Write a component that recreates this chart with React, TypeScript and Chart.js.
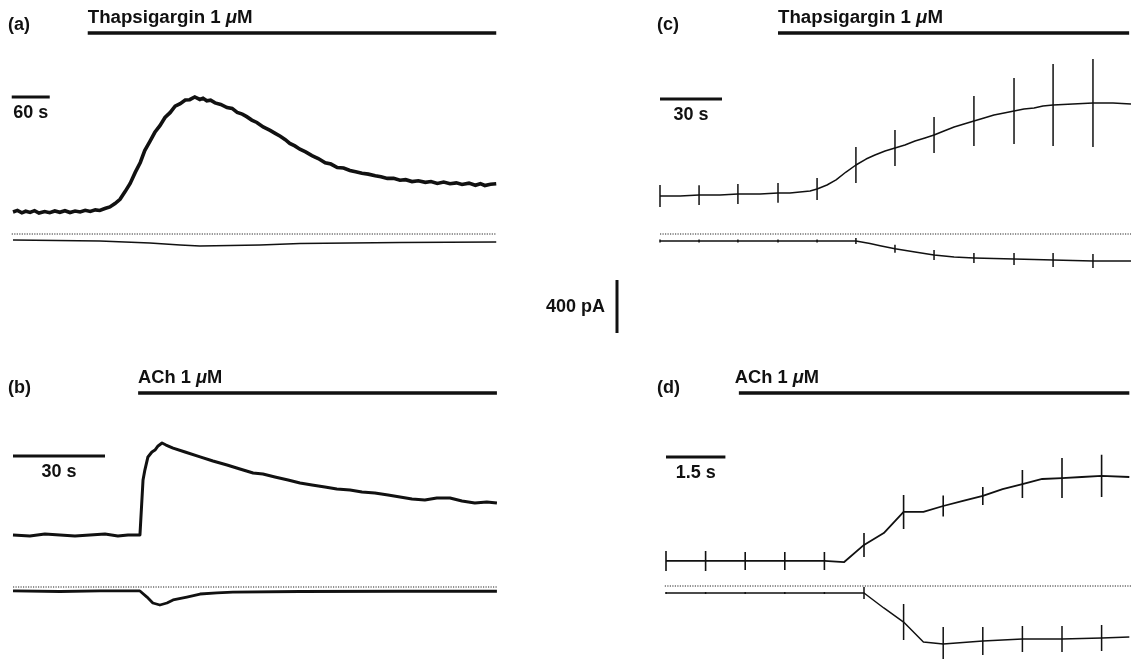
import React, { useEffect, useRef } from "react";
import { Chart, registerables } from "chart.js";

Chart.register(...registerables);

const W = 1131;
const H = 659;
const PA_PER_PX = 7.55;
const INK = "#111";

// ---------- Panel (a): Thapsigargin 1 µM, time in s, current in pA ----------
const aTime = [0, 7, 14, 20, 27, 34, 41, 50, 58, 66, 74, 82, 90, 98, 106, 114, 122, 130, 137, 145, 153, 161, 169, 177, 185, 193, 201, 208, 216, 224, 232, 240, 248, 256, 264, 272, 279, 287, 295, 300, 306, 312, 319, 328, 338, 346, 354, 362, 369, 377, 385, 395, 406, 414, 422, 430, 437, 445, 453, 462, 472, 482, 493, 502, 512, 522, 532, 541, 551, 561, 572, 581, 591, 601, 611, 620, 630, 640, 651, 660, 670, 680, 690, 700, 709, 720, 730, 738, 745, 754, 763];
const aUpper = [166, 178, 160, 172, 163, 176, 158, 170, 161, 174, 164, 176, 162, 173, 166, 179, 170, 182, 178, 192, 204, 230, 262, 320, 382, 465, 540, 630, 698, 768, 818, 880, 916, 965, 984, 1012, 1014, 1035, 1016, 1025, 1006, 1010, 990, 978, 955, 948, 918, 905, 886, 860, 842, 808, 782, 760, 738, 712, 684, 665, 640, 620, 592, 570, 538, 528, 502, 498, 480, 470, 458, 452, 440, 432, 420, 420, 406, 410, 396, 402, 390, 396, 382, 392, 380, 386, 374, 384, 368, 380, 366, 376, 380];
const aLowerTime = [0, 137, 216, 264, 295, 343, 390, 453, 611, 763];
const aLower = [-45, -53, -68, -83, -91, -87, -83, -72, -64, -60];
const aBaseSpan = [-2, 763];
const aDrugSpan = [118, 763];
const aDrugLevel = 1518;
const aScaleSpan = [-2, 58];
const aScaleLevel = 1034;

// ---------- Panel (b): ACh 1 µM ----------
const bTime = [0, 5.5, 10.4, 15.3, 20.2, 25.1, 30, 34.2, 37.5, 41.4, 42.4, 43, 44, 45.3, 46.3, 47.3, 48.6, 49.9, 52.2, 56.1, 61, 65.2, 69.8, 74, 78.3, 81.5, 85.4, 89.7, 93.6, 97.5, 101.7, 105.6, 109.9, 113.8, 118, 122.3, 126.2, 130.1, 134.3, 138.2, 142.5, 146.4, 150.6, 154.5, 157.8];
const bUpper = [393, 385, 400, 393, 385, 393, 400, 385, 393, 393, 808, 883, 982, 1019, 1034, 1065, 1087, 1072, 1049, 1019, 982, 951, 921, 891, 861, 853, 831, 808, 785, 770, 755, 740, 732, 717, 710, 695, 680, 664, 657, 672, 672, 649, 634, 642, 634];
const bLowerTime = [0, 15.3, 28.4, 41.4, 43.7, 45.6, 47.9, 50.2, 52.2, 56.7, 61, 66.5, 71.7, 93.6, 126.2, 157.8];
const bLower = [-30, -34, -30, -30, -76, -121, -136, -121, -98, -76, -53, -45, -38, -34, -32, -32];
const bBaseSpan = [0, 157.8];
const bDrugSpan = [40.8, 157.8];
const bDrugLevel = 1465;
const bScaleSpan = [0, 30];
const bScaleLevel = 989;

// ---------- Panel (c): Thapsigargin 1 µM, mean ± s.e.m. ----------
const cTime = [0, 9.7, 18.9, 29, 37.7, 48.4, 57.1, 62.9, 67.7, 72.6, 76, 80.8, 85.2, 90, 94.8, 99.7, 104, 108.9, 113.7, 118.5, 123.4, 128.2, 132.6, 137.4, 142.3, 147.1, 151.9, 156.8, 161.6, 166.5, 171.3, 176.1, 181, 185.3, 190.2, 195, 199.8, 204.6, 209.5, 214.4, 219.2, 223.5, 227.9];
const cUpper = [287, 287, 294, 294, 302, 302, 310, 310, 317, 325, 340, 370, 408, 468, 521, 566, 596, 627, 649, 672, 702, 725, 747, 778, 808, 831, 853, 876, 898, 914, 929, 944, 951, 966, 974, 978, 982, 985, 989, 989, 989, 985, 982];
const cLowerTime = [0, 94.8, 101.6, 106.5, 113.7, 123.4, 132.6, 142.3, 151.9, 161.6, 171.3, 181, 190.2, 199.8, 209.5, 227.9];
const cLower = [-53, -53, -72, -88, -112, -136, -159, -174, -181, -185, -189, -193, -196, -200, -204, -204];
const cErrTime = [0, 18.9, 37.7, 57.1, 76, 94.8, 113.7, 132.6, 151.9, 171.3, 190.2, 209.5];
const cUpperMean = [287, 294, 302, 310, 340, 521, 649, 747, 853, 929, 974, 989];
const cUpperSem = [83, 75, 75, 75, 83, 136, 136, 136, 189, 249, 310, 332];
const cLowerMean = [-53, -53, -53, -53, -53, -53, -112, -159, -181, -189, -196, -204];
const cLowerSem = [11, 11, 11, 11, 11, 23, 30, 38, 38, 45, 53, 53];
const cBaseSpan = [0, 227.9];
const cDrugSpan = [57.1, 227];
const cDrugLevel = 1518;
const cScaleSpan = [0, 30];
const cScaleLevel = 1019;

// ---------- Panel (d): ACh 1 µM, mean ± s.e.m. ----------
const dTime = [0, 1, 2, 3, 4, 4.5, 5, 5.5, 6, 6.5, 7, 7.5, 8, 8.5, 9, 9.5, 10, 10.5, 11, 11.7];
const dUpper = [189, 189, 189, 189, 189, 181, 310, 400, 559, 559, 604, 642, 680, 732, 770, 808, 815, 823, 831, 823];
const dLowerTime = [0, 1, 2, 3, 4, 5, 5.5, 6, 6.5, 7, 8, 9, 10, 11, 11.7];
const dLower = [-53, -53, -53, -53, -53, -53, -166, -272, -423, -438, -415, -400, -400, -393, -385];
const dErrTime = [0, 1, 2, 3, 4, 5, 6, 7, 8, 9, 10, 11];
const dUpperMean = [189, 189, 189, 189, 189, 310, 559, 604, 680, 770, 815, 831];
const dUpperSem = [75, 75, 68, 68, 68, 91, 128, 79, 68, 106, 151, 159];
const dLowerMean = [-53, -53, -53, -53, -53, -53, -272, -438, -415, -400, -400, -393];
const dLowerSem = [8, 8, 8, 8, 8, 45, 136, 128, 106, 98, 98, 98];
const dBaseSpan = [-0.03, 11.75];
const dDrugSpan = [1.84, 11.7];
const dDrugLevel = 1457;
const dScaleSpan = [0, 1.5];
const dScaleLevel = 974;

// ---------- shared current scale bar ----------
const currentBarSpan = [0, 400];

// panel placement on the page (layout only)
const layout: Record<string, { x0: number; y0: number; pxPerX: number }> = {
  a: { x0: 13, y0: 234, pxPerX: 38 / 60 },
  b: { x0: 13, y0: 587, pxPerX: 92 / 30 },
  c: { x0: 660, y0: 234, pxPerX: 62 / 30 },
  d: { x0: 666, y0: 586, pxPerX: 39.6 },
  s: { x0: 617, y0: 333, pxPerX: 1 },
};

const pts = (xs: number[], ys: number[]) => xs.map((x, i) => ({ x, y: ys[i] }));
const errPts = (ts: number[], m: number[], s: number[]) => {
  const out: { x: number; y: number | null }[] = [];
  ts.forEach((t, i) => {
    out.push({ x: t, y: m[i] - s[i] }, { x: t, y: m[i] + s[i] }, { x: t, y: null });
  });
  return out;
};

function ds(p: string, data: any[], width: number, extra: any = {}) {
  return {
    data,
    xAxisID: "x" + p,
    yAxisID: "y" + p,
    borderColor: INK,
    borderWidth: width,
    pointRadius: 0,
    tension: 0,
    fill: false,
    spanGaps: false,
    borderJoinStyle: "round",
    ...extra,
  };
}

const dotted = { borderDash: [1.2, 1.3], borderColor: "#222" };

const FONT = 18;
const FAMILY = '"Liberation Sans", Arial, sans-serif';

function drawRich(ctx: CanvasRenderingContext2D, parts: [string, boolean][], x: number, y: number, size: number) {
  let cx = x;
  for (const [txt, it] of parts) {
    ctx.font = `${it ? "italic " : ""}bold ${size}px ${FAMILY}`;
    ctx.fillText(txt, cx, y);
    cx += ctx.measureText(txt).width;
  }
}

const labelPlugin = {
  id: "figureLabels",
  afterDatasetsDraw(chart: any) {
    const ctx: CanvasRenderingContext2D = chart.ctx;
    const sc = chart.scales;
    ctx.save();
    ctx.fillStyle = INK;
    ctx.textBaseline = "alphabetic";
    ctx.textAlign = "left";
    ctx.font = `bold ${FONT}px ${FAMILY}`;
    // panel letters
    ctx.fillText("(a)", 8, 30);
    ctx.fillText("(b)", 8, 393);
    ctx.fillText("(c)", 657, 30);
    ctx.fillText("(d)", 657, 393);

    const drug = (p: string, name: string, span: number[], level: number, size: number) => {
      const x = sc["x" + p].getPixelForValue(span[0]);
      const y = sc["y" + p].getPixelForValue(level);
      drawRich(ctx, [[name + " 1 ", false], ["\u03bc", true], ["M", false]], x - (p === "d" ? 4 : 0), y - 10, size);
    };
    drug("a", "Thapsigargin", aDrugSpan, aDrugLevel, 18.7);
    drug("b", "ACh", bDrugSpan, bDrugLevel, 18.3);
    drug("c", "Thapsigargin", cDrugSpan, cDrugLevel, 18.7);
    drug("d", "ACh", dDrugSpan, dDrugLevel, 18.3);

    ctx.font = `bold ${FONT}px ${FAMILY}`;
    ctx.textAlign = "center";
    ctx.textBaseline = "middle";
    const timeLabel = (p: string, txt: string, span: number[], level: number) => {
      const x = (sc["x" + p].getPixelForValue(span[0]) + sc["x" + p].getPixelForValue(span[1])) / 2;
      const y = sc["y" + p].getPixelForValue(level);
      ctx.fillText(txt, x, y + 16);
    };
    timeLabel("a", "60 s", aScaleSpan, aScaleLevel);
    timeLabel("b", "30 s", bScaleSpan, bScaleLevel);
    timeLabel("c", "30 s", cScaleSpan, cScaleLevel);
    timeLabel("d", "1.5 s", dScaleSpan, dScaleLevel);

    ctx.textAlign = "right";
    const bx = sc.xs.getPixelForValue(0);
    const by = (sc.ys.getPixelForValue(currentBarSpan[0]) + sc.ys.getPixelForValue(currentBarSpan[1])) / 2;
    ctx.fillText("400 pA", bx - 12, by + 1);
    ctx.restore();
  },
};

export default function App() {
  const ref = useRef<HTMLCanvasElement | null>(null);
  useEffect(() => {
    if (!ref.current) return;
    const scales: any = {};
    for (const p of Object.keys(layout)) {
      const L = layout[p];
      scales["x" + p] = { type: "linear", display: false, min: -L.x0 / L.pxPerX, max: (W - L.x0) / L.pxPerX };
      scales["y" + p] = { type: "linear", display: false, min: -(H - L.y0) * PA_PER_PX, max: L.y0 * PA_PER_PX };
    }
    const datasets: any[] = [
      // (a)
      ds("a", pts(aTime, aUpper), 3.6, { borderJoinStyle: "miter" }),
      ds("a", pts(aLowerTime, aLower), 1.6),
      ds("a", pts(aBaseSpan, [0, 0]), 1, dotted),
      ds("a", pts(aDrugSpan, [aDrugLevel, aDrugLevel]), 3.5),
      ds("a", pts(aScaleSpan, [aScaleLevel, aScaleLevel]), 3),
      // (b)
      ds("b", pts(bTime, bUpper), 3),
      ds("b", pts(bLowerTime, bLower), 2.8),
      ds("b", pts(bBaseSpan, [0, 0]), 1, dotted),
      ds("b", pts(bDrugSpan, [bDrugLevel, bDrugLevel]), 3.5),
      ds("b", pts(bScaleSpan, [bScaleLevel, bScaleLevel]), 3),
      // (c)
      ds("c", pts(cTime, cUpper), 1.5),
      ds("c", errPts(cErrTime, cUpperMean, cUpperSem), 1.5),
      ds("c", pts(cLowerTime, cLower), 1.5),
      ds("c", errPts(cErrTime, cLowerMean, cLowerSem), 1.5),
      ds("c", pts(cBaseSpan, [0, 0]), 1, dotted),
      ds("c", pts(cDrugSpan, [cDrugLevel, cDrugLevel]), 3.5),
      ds("c", pts(cScaleSpan, [cScaleLevel, cScaleLevel]), 3),
      // (d)
      ds("d", pts(dTime, dUpper), 1.8),
      ds("d", errPts(dErrTime, dUpperMean, dUpperSem), 1.6),
      ds("d", pts(dLowerTime, dLower), 1.5),
      ds("d", errPts(dErrTime, dLowerMean, dLowerSem), 1.5),
      ds("d", pts(dBaseSpan, [0, 0]), 1, dotted),
      ds("d", pts(dDrugSpan, [dDrugLevel, dDrugLevel]), 3.5),
      ds("d", pts(dScaleSpan, [dScaleLevel, dScaleLevel]), 3),
      // 400 pA bar
      ds("s", pts([0, 0], currentBarSpan), 3),
    ];
    const chart = new Chart(ref.current, {
      type: "line",
      data: { datasets },
      options: {
        animation: false,
        responsive: false,
        devicePixelRatio: 1,
        layout: { padding: 0 },
        plugins: { legend: { display: false }, tooltip: { enabled: false }, title: { display: false } },
        scales,
      } as any,
      plugins: [labelPlugin as any],
    });
    return () => chart.destroy();
  }, []);
  return (
    <div style={{ position: "absolute", left: 0, top: 0, width: W, height: H, background: "#fff" }}>
      <canvas ref={ref} width={W} height={H} style={{ display: "block" }} />
    </div>
  );
}
